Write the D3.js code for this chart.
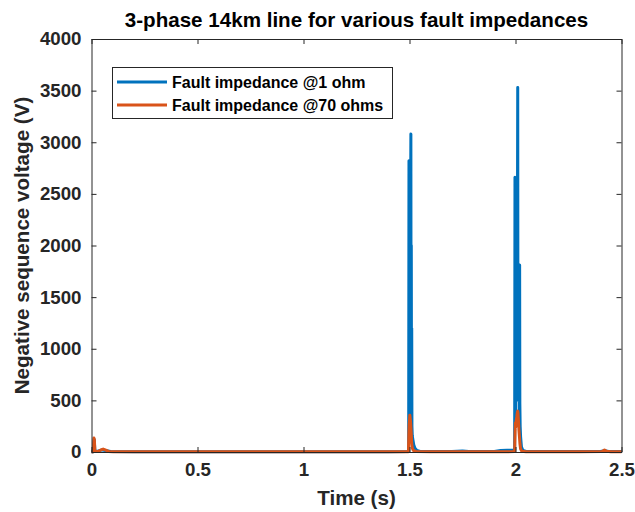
<!DOCTYPE html>
<html>
<head>
<meta charset="utf-8">
<script src="https://cdn.jsdelivr.net/npm/d3@7"></script>
<style>
  html, body { margin: 0; padding: 0; background: #fff; }
  svg { display: block; font-family: "Liberation Sans", Arial, sans-serif; font-weight: bold; }
</style>
</head>
<body>
<svg id="chart" width="635" height="512"></svg>
<script>
// ---- data ----
const title = "3-phase 14km line for various fault impedances";
const xLabel = "Time (s)";
const yLabel = "Negative sequence voltage (V)";
const seriesNames = ["Fault impedance @1 ohm", "Fault impedance @70 ohms"];
const xTicks = [0, 0.5, 1, 1.5, 2, 2.5];
const xTickLabels = ["0", "0.5", "1", "1.5", "2", "2.5"];
const yTicks = [0, 500, 1000, 1500, 2000, 2500, 3000, 3500, 4000];

// Fault impedance @1 ohm : [time (s), voltage (V)]
const series1ohm = [
  [0, 0], [0.008, 2], [0.013, 120], [0.016, 10], [0.03, 8], [0.05, 20], [0.065, 15], [0.09, 5],
  [0.2, 3], [0.5, 3], [0.8, 3], [1.0, 3], [1.2, 3], [1.4, 3], [1.49, 4],
  [1.496, 6], [1.4975, 2820], [1.4985, 400], [1.4995, 2750], [1.5005, 300], [1.5015, 2700],
  [1.5025, 500], [1.5035, 2650], [1.5045, 600], [1.5055, 2600], [1.5065, 3080], [1.5075, 700],
  [1.5085, 2000], [1.5095, 400], [1.5105, 1200], [1.5115, 250], [1.513, 160], [1.516, 120],
  [1.52, 70], [1.526, 35], [1.535, 15], [1.55, 6],
  [1.6, 4], [1.7, 4], [1.75, 10], [1.78, 5], [1.9, 6], [1.93, 14], [1.96, 16], [1.99, 18], [1.996, 20],
  [1.9975, 2660], [1.9985, 300], [1.9995, 2600], [2.0005, 400], [2.0015, 2550], [2.0025, 500],
  [2.0035, 2500], [2.0045, 500], [2.0055, 2450], [2.0065, 600], [2.0075, 2500], [2.0085, 700],
  [2.0095, 2550], [2.0105, 3530], [2.0115, 800], [2.0125, 1800], [2.0135, 600], [2.0145, 1780],
  [2.0155, 500], [2.0165, 1750], [2.0175, 400], [2.0185, 1700], [2.0195, 1810], [2.0205, 470],
  [2.022, 250], [2.024, 150], [2.028, 50], [2.035, 15], [2.05, 5],
  [2.2, 4], [2.4, 5], [2.42, 12], [2.44, 5], [2.5, 4]
];

// Fault impedance @70 ohms : [time (s), voltage (V)]
const series70ohm = [
  [0, 0], [0.008, 3], [0.0115, 135], [0.0135, 120], [0.016, 8], [0.03, 5], [0.045, 20], [0.055, 28],
  [0.065, 20], [0.08, 6], [0.1, 3], [0.3, 2], [0.6, 2], [0.9, 2], [1.2, 2], [1.45, 2], [1.495, 3],
  [1.497, 180], [1.4985, 260], [1.5, 310], [1.5015, 357], [1.503, 330], [1.5045, 300],
  [1.506, 260], [1.508, 180], [1.51, 90], [1.513, 40], [1.518, 15], [1.53, 5], [1.6, 2],
  [1.8, 2], [1.95, 3], [1.996, 4], [1.998, 200], [1.9995, 280], [2.001, 240],
  [2.003, 300], [2.006, 340], [2.0085, 380], [2.0105, 396], [2.012, 370], [2.014, 300],
  [2.016, 220], [2.0185, 150], [2.021, 80], [2.024, 30], [2.03, 8], [2.05, 3],
  [2.3, 2], [2.41, 5], [2.42, 20], [2.43, 8], [2.45, 3], [2.5, 2]
];

const colors = ["#0072BD", "#D95319"];

// ---- layout ----
const svg = d3.select("#chart");
const L = 91.5, R = 621.5, T = 39, B = 452;
const x = d3.scaleLinear().domain([0, 2.5]).range([L, R]);
const y = d3.scaleLinear().domain([0, 4000]).range([B, T]);
const axisColor = "#262626";
const tickFont = 18.7;

// lines
const line = d3.line().x(d => x(d[0])).y(d => y(d[1]));
[series1ohm, series70ohm].forEach((s, i) => {
  svg.append("path")
    .datum(s)
    .attr("d", line)
    .attr("fill", "none")
    .attr("stroke", colors[i])
    .attr("stroke-width", 3)
    .attr("stroke-linejoin", "round");
});

// axes (MATLAB style: ticks inside, box on)
const xAxisB = d3.axisBottom(x).tickValues(xTicks).tickFormat((d, i) => xTickLabels[i]).tickSizeInner(-5).tickSizeOuter(0).tickPadding(11);
const xAxisT = d3.axisTop(x).tickValues(xTicks).tickFormat("").tickSizeInner(-5).tickSizeOuter(0);
const yAxisL = d3.axisLeft(y).tickValues(yTicks).tickFormat(d3.format("d")).tickSizeInner(-5).tickSizeOuter(0).tickPadding(10);
const yAxisR = d3.axisRight(y).tickValues(yTicks).tickFormat("").tickSizeInner(-5).tickSizeOuter(0);

function style(g) {
  g.selectAll("path.domain").attr("stroke", axisColor).attr("stroke-width", 1);
  g.selectAll(".tick line").attr("stroke", axisColor).attr("stroke-width", 1);
  g.selectAll(".tick text").attr("fill", axisColor).style("font-size", tickFont + "px").style("font-weight", "bold").style("font-family", "'Liberation Sans', Arial, sans-serif");
}
svg.append("g").attr("transform", `translate(0,${B})`).call(xAxisB).call(style);
svg.append("g").attr("transform", `translate(0,${T})`).call(xAxisT).call(style);
svg.append("g").attr("transform", `translate(${L},0)`).call(yAxisL).call(style);
svg.append("g").attr("transform", `translate(${R},0)`).call(yAxisR).call(style);

// title and labels
svg.append("text").attr("x", (L + R) / 2).attr("y", 27).attr("text-anchor", "middle")
  .attr("fill", "#000").style("font-size", "20.6px").text(title);
svg.append("text").attr("x", (L + R) / 2).attr("y", 505).attr("text-anchor", "middle")
  .attr("fill", axisColor).style("font-size", "20.6px").text(xLabel);
svg.append("text").attr("transform", `translate(29,${(T + B) / 2}) rotate(-90)`).attr("text-anchor", "middle")
  .attr("fill", axisColor).style("font-size", "20.6px").text(yLabel);

// legend
const lg = svg.append("g");
const lgRows = seriesNames.map((n, i) => ({ n, c: colors[i], yy: 82 + i * 23 }));
lg.append("rect").attr("x", 112.5).attr("y", 67.5).attr("width", 280).attr("height", 51)
  .attr("fill", "#fff").attr("stroke", axisColor).attr("stroke-width", 1);
lgRows.forEach(r => {
  lg.append("line").attr("x1", 117).attr("x2", 167).attr("y1", r.yy).attr("y2", r.yy)
    .attr("stroke", r.c).attr("stroke-width", 3);
  lg.append("text").attr("x", 172).attr("y", r.yy + 6).attr("fill", "#000")
    .style("font-size", "16px").text(r.n);
});
</script>
</body>
</html>
